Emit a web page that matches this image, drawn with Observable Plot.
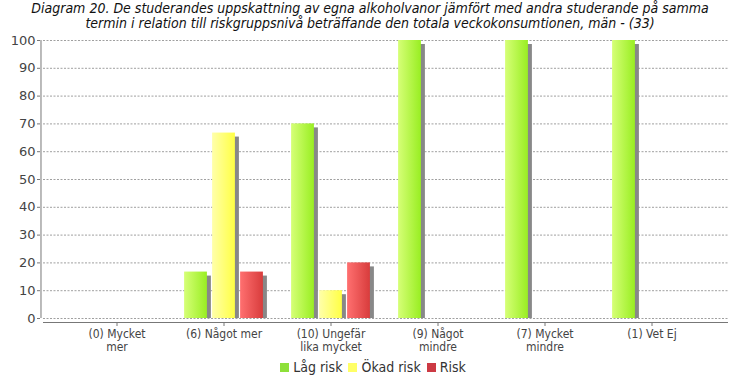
<!DOCTYPE html>
<html><head><meta charset="utf-8">
<script src="https://cdn.jsdelivr.net/npm/d3@7"></script>
<script src="https://cdn.jsdelivr.net/npm/@observablehq/plot@0.6"></script>
<style>
body{margin:0;background:#fff;width:740px;height:380px;overflow:hidden;}
#title{font-family:"DejaVu Sans Condensed","DejaVu Sans",sans-serif;font-style:italic;font-size:14px;line-height:15px;text-align:center;color:#111;padding-top:1px;height:31px;}
#legend{font-family:"DejaVu Sans Condensed","DejaVu Sans",sans-serif;font-size:14px;line-height:17px;color:#333;text-align:center;margin-top:1px;}
#legend span.sw{display:inline-block;width:9px;height:9px;margin:0 4px 0 6px;vertical-align:0px;}
svg{display:block;}
</style></head><body>
<div id="title">Diagram 20. De studerandes uppskattning av egna alkoholvanor jämfört med andra studerande på samma<br>termin i relation till riskgruppsnivå beträffande den totala veckokonsumtionen, män - (33)</div>
<div id="chart"></div>
<div id="legend"></div>
<script>
const categories = ["(0) Mycket\nmer", "(6) Något mer", "(10) Ungefär\nlika mycket", "(9) Något\nmindre", "(7) Mycket\nmindre", "(1) Vet Ej"];
const seriesNames = ["Låg risk", "Ökad risk", "Risk"];
const lagRisk = [0, 16.7, 70, 100, 100, 100];
const okadRisk = [0, 66.7, 10, 0, 0, 0];
const risk = [0, 16.7, 20, 0, 0, 0];
const yTicks = [0, 10, 20, 30, 40, 50, 60, 70, 80, 90, 100];

const seriesValues = [lagRisk, okadRisk, risk];
const gradIds = ["gGreen", "gYellow", "gRed"];
const swatch = ["#8ee03a", "#ffff66", "#cc3a44"];
const offsets = [-28, 0, 28];

const rows = [];
seriesValues.forEach((vals, si) => vals.forEach((v, i) => {
  if (v > 0) rows.push({cat: categories[i], series: seriesNames[si], si, value: v});
}));

const padOuter = 0.209;
const bw = 107.2, barW = 23, inset = (bw - barW) / 2;
const marks = [];
marks.push(Plot.ruleY(yTicks, {y: d => d, stroke: "#888", strokeDasharray: "2,1.5", strokeWidth: 0.8, insetLeft: 3}));
seriesNames.forEach((s, si) => {
  const data = rows.filter(r => r.si === si);
  marks.push(Plot.barY(data, {x: "cat", y: "value", fill: "#888", dx: offsets[si] + 4, insetTop: 4, insetLeft: inset, insetRight: inset}));
  marks.push(Plot.barY(data, {x: "cat", y: "value", fill: `url(#${gradIds[si]})`, dx: offsets[si], insetLeft: inset, insetRight: inset}));
});
marks.push(Plot.ruleY([0], {stroke: "#777", strokeWidth: 1, dy: 4, insetLeft: 3}));
marks.push(Plot.ruleX([categories[0]], {x: d => d, y1: 0, y2: 100, stroke: "#777", dx: -(0.5 + padOuter) * bw}));
marks.push(Plot.axisY({ticks: yTicks, tickSize: 3, fontSize: 13, fill: "#444", stroke: "#777", tickPadding: 2, fontFamily: "DejaVu Sans"}));
marks.push(Plot.axisX({tickSize: 4, dy: 4, fontSize: 12, fill: "#444", stroke: "#777", tickPadding: 2, fontFamily: "DejaVu Sans Condensed", lineHeight: 1.08}));

const chart = Plot.plot({
  width: 740,
  height: 326,
  marginLeft: 40,
  marginRight: 12,
  marginTop: 8,
  marginBottom: 40,
  style: {background: "#fff", fontFamily: "DejaVu Sans"},
  x: {domain: categories, paddingInner: 0, paddingOuter: padOuter, label: null},
  y: {domain: [0, 100], label: null},
  marks
});

// gradients
const ns = "http://www.w3.org/2000/svg";
const defs = document.createElementNS(ns, "defs");
const stops = [["#d6ff77", "#99ee22"], ["#ffffaa", "#ffff44"], ["#ff7070", "#d83c3c"]];
gradIds.forEach((id, i) => {
  const g = document.createElementNS(ns, "linearGradient");
  g.setAttribute("id", id);
  g.setAttribute("x1", "0"); g.setAttribute("x2", "1"); g.setAttribute("y1", "0"); g.setAttribute("y2", "0");
  [[0, stops[i][0]], [1, stops[i][1]]].forEach(([o, c]) => {
    const s = document.createElementNS(ns, "stop");
    s.setAttribute("offset", o); s.setAttribute("stop-color", c);
    g.appendChild(s);
  });
  defs.appendChild(g);
});
chart.insertBefore(defs, chart.firstChild);
document.getElementById("chart").appendChild(chart);

const legend = document.getElementById("legend");
seriesNames.forEach((s, i) => {
  const sw = document.createElement("span");
  sw.className = "sw"; sw.style.background = swatch[i];
  legend.appendChild(sw);
  legend.appendChild(document.createTextNode(s));
});
</script>
</body></html>
